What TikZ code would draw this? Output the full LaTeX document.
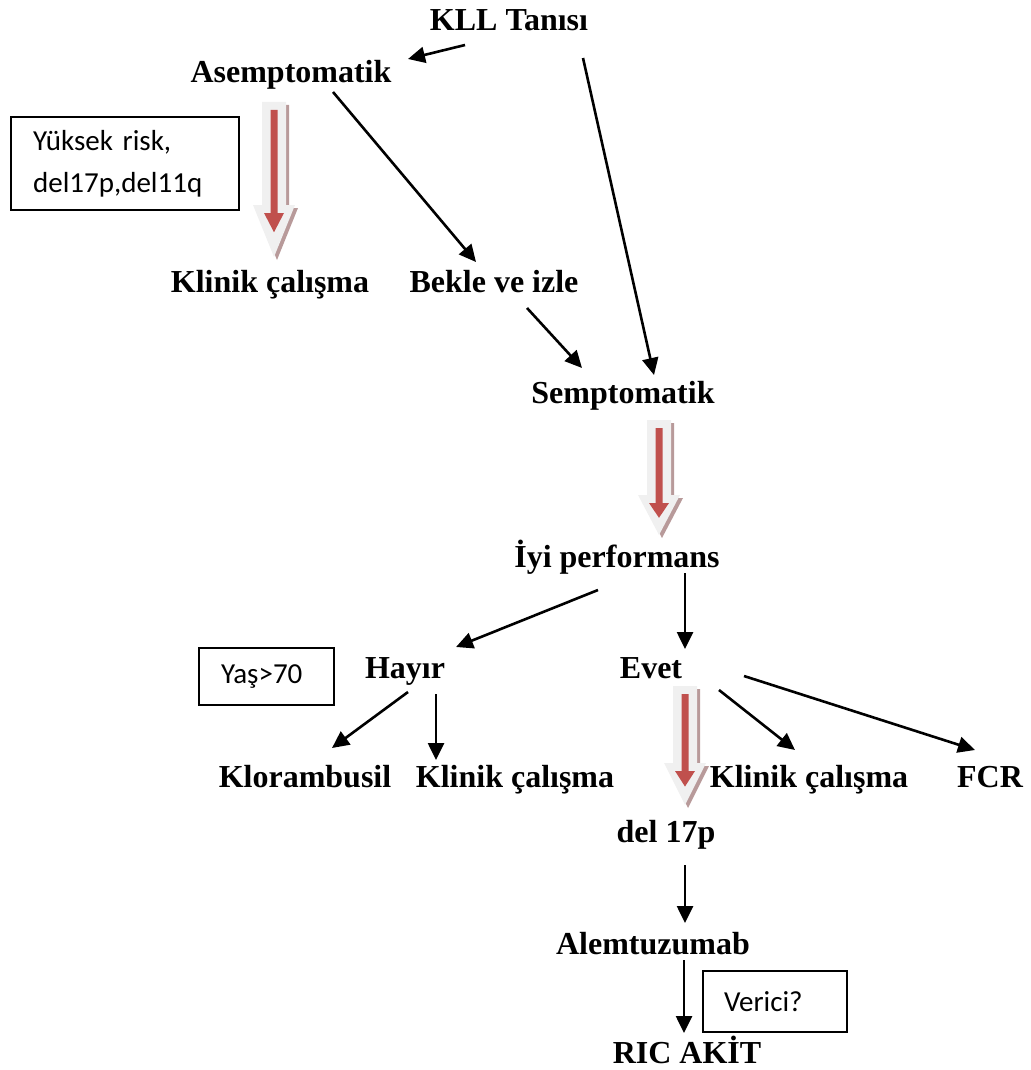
\documentclass[tikz,border=0pt]{standalone}
\usepackage{xcolor}
\usepackage{fontspec}
\setmainfont{Liberation Serif}
\newfontfamily\boxfont{Carlito}
\usepackage{tikz}
\usetikzlibrary{arrows.meta, calc}

\definecolor{arrred}{HTML}{C0504D}
\definecolor{arrlight}{HTML}{F0F0F0}
\definecolor{arrshade}{HTML}{B89A9A}

% big shaded arrow: x, top, head start, tip
\newcommand{\fatarrow}[4]{%
  \fill[arrshade] (#1-9,#2+3) -- (#1+15,#2+3) -- (#1+15,#3+3) -- (#1+24,#3+3) -- (#1+3,#4+3) -- (#1-18,#3+3) -- (#1-9,#3+3) -- cycle;
  \fill[arrlight] (#1-12,#2) -- (#1+12,#2) -- (#1+12,#3) -- (#1+21,#3) -- (#1,#4) -- (#1-21,#3) -- (#1-12,#3) -- cycle;
  \fill[arrred] (#1-3.5,#2+8) -- (#1+3.5,#2+8) -- (#1+3.5,#3+8) -- (#1+10,#3+8) -- (#1,{#3+8+0.37*(#4-#3)}) -- (#1-10,#3+8) -- (#1-3.5,#3+8) -- cycle;
}

\begin{document}
\begin{tikzpicture}[x=1pt, y=-1pt,
  lbl/.style={font=\bfseries\fontsize{32}{38}\selectfont, inner sep=0pt, anchor=base},
  box/.style={draw, line width=2.2pt, font=\boxfont\fontsize{29}{42}\selectfont, align=left, anchor=north west, inner ysep=0pt},
  arr/.style={-{Triangle[length=17pt,width=16pt]}, line width=2.6pt}]
\useasboundingbox (0,0) rectangle (1030,1070);

\fatarrow{274}{102}{205}{257}
\fatarrow{659}{420}{495}{535}
\fatarrow{685}{686}{763}{805}

\node[lbl] (kll) at (509,31) {KLL Tanısı};
\node[lbl] (asem) at (291,83) {Asemptomatik};
\node[lbl] (klin1) at (270,292) {Klinik çalışma};
\node[lbl] (bekle) at (494,292) {Bekle ve izle};
\node[lbl] (semp) at (623,403) {Semptomatik};
\node[lbl] (iyi) at (617,567) {İyi performans};
\node[lbl] (hayir) at (405,678) {Hayır};
\node[lbl] (evet) at (651,678) {Evet};
\node[lbl] (klor) at (305,787) {Klorambusil};
\node[lbl] (klin2) at (515,787) {Klinik çalışma};
\node[lbl] (klin3) at (809,787) {Klinik çalışma};
\node[lbl] (fcr) at (990,787) {FCR};
\node[lbl] (del) at (666,842) {del 17p};
\node[lbl] (alem) at (653,954) {Alemtuzumab};
\node[lbl] (ric) at (687,1063) {RIC AKİT};

\node[box, inner xsep=22pt, text width=184pt, minimum height=93pt] (risk) at (10,116) {Yüksek risk,\\del17p,del11q};
\node[box, inner xsep=22pt, text width=91pt, minimum height=57pt] (yas) at (198,647) {Yaş>70};
\node[box, inner xsep=21pt, text width=102pt, minimum height=61pt] (verici) at (702,970) {Verici?};

\draw[arr] ([shift={(-44,14)}]kll.base) -- ([shift={(117,-24)}]asem.base);
\draw[arr] ([shift={(74,27)}]kll.base) -- ([shift={(31,-28)}]semp.base);
\draw[arr] ([shift={(42,9)}]asem.base) -- ([shift={(-18,-30)}]bekle.base);
\draw[arr] ([shift={(33,16)}]bekle.base) -- ([shift={(-41,-35)}]semp.base);
\draw[arr] ([shift={(-19,23)}]iyi.base) -- ([shift={(51,-31)}]hayir.base);
\draw[arr] ([shift={(68,6)}]iyi.base) -- ([shift={(34,-29)}]evet.base);
\draw[arr] ([shift={(3,14)}]hayir.base) -- ([shift={(27,-39)}]klor.base);
\draw[arr] ([shift={(31,16)}]hayir.base) -- ([shift={(-79,-27)}]klin2.base);
\draw[arr] ([shift={(68,12)}]evet.base) -- ([shift={(-14,-37)}]klin3.base);
\draw[arr] ([shift={(93,-2)}]evet.base) -- ([shift={(-15,-37)}]fcr.base);
\draw[arr] ([shift={(19,23)}]del.base) -- ([shift={(32,-31)}]alem.base);
\draw[arr] ([shift={(31,6)}]alem.base) -- ([shift={(-3,-30)}]ric.base);
\end{tikzpicture}
\end{document}
